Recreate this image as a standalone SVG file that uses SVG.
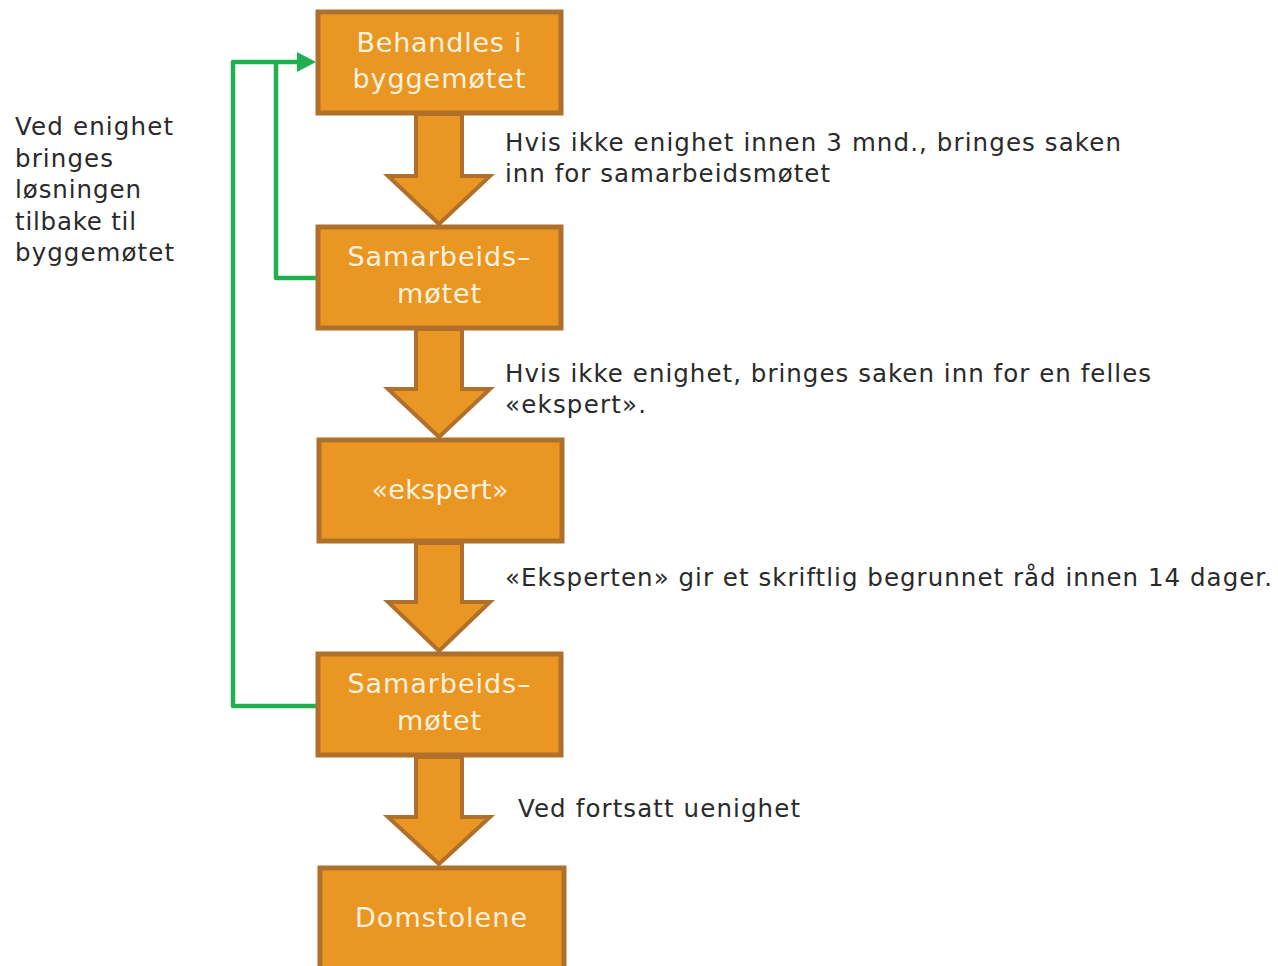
<svg xmlns="http://www.w3.org/2000/svg" width="1278" height="966" viewBox="0 0 1278 966">
<style>
.box{fill:#ea9623;stroke:#b0702c;stroke-width:5}
.arr{fill:#ea9623;stroke:#b0702c;stroke-width:4;stroke-linejoin:miter}
.bt{font-family:"DejaVu Sans",Verdana,sans-serif;font-size:27px;fill:#fdf1df;text-anchor:middle}
.lt{font-family:"DejaVu Sans",Verdana,sans-serif;font-size:24.5px;fill:#2a2a2a}
.g{fill:none;stroke:#22b04e;stroke-width:4.5;stroke-linejoin:round}
.gh{fill:#22b04e}
</style>
<rect width="1278" height="966" fill="#ffffff"/>
<g id="connectors">
<path class="arr" d="M416,114 L462,114 L462,176 L490,176 L439,224 L388,176 L416,176 Z"/>
<path class="arr" d="M416,329 L462,329 L462,389 L490,389 L439,437 L388,389 L416,389 Z"/>
<path class="arr" d="M416,543 L462,543 L462,602 L490,602 L439,651 L388,602 L416,602 Z"/>
<path class="arr" d="M416,757 L462,757 L462,817 L490,817 L439,864 L388,817 L416,817 Z"/>
<path class="g" d="M318,706 L233,706 L233,62 L300,62"/>
<path class="g" d="M318,278 L276,278 L276,62"/>
<path class="gh" d="M297,52 L316,62 L297,72 Z"/>
</g>
<g id="n1"><rect class="box" x="318" y="12" width="243" height="101"/><text class="bt" x="439" y="52" textLength="165">Behandles i</text><text class="bt" x="439" y="88" textLength="173">byggemøtet</text></g>
<g id="n2"><rect class="box" x="318" y="227" width="243" height="101"/><text class="bt" x="439" y="266" textLength="183">Samarbeids–</text><text class="bt" x="439" y="303" textLength="84">møtet</text></g>
<g id="n3"><rect class="box" x="319" y="440" width="243" height="101"/><text class="bt" x="440" y="499" textLength="137">«ekspert»</text></g>
<g id="n4"><rect class="box" x="318" y="654" width="243" height="101"/><text class="bt" x="439" y="693" textLength="183">Samarbeids–</text><text class="bt" x="439" y="730" textLength="84">møtet</text></g>
<g id="n5"><rect class="box" x="320" y="868" width="244" height="104"/><text class="bt" x="441" y="927" textLength="172">Domstolene</text></g>
<g id="labels">
<text class="lt" x="505" y="151" textLength="616">Hvis ikke enighet innen 3 mnd., bringes saken</text>
<text class="lt" x="505" y="182" textLength="325">inn for samarbeidsmøtet</text>
<text class="lt" x="505" y="382" textLength="646">Hvis ikke enighet, bringes saken inn for en felles</text>
<text class="lt" x="505" y="413" textLength="141">«ekspert».</text>
<text class="lt" x="505" y="586" textLength="767">«Eksperten» gir et skriftlig begrunnet råd innen 14 dager.</text>
<text class="lt" x="518" y="817" textLength="282">Ved fortsatt uenighet</text>
<text class="lt" x="15" y="135" textLength="158">Ved enighet</text>
<text class="lt" x="15" y="167" textLength="98">bringes</text>
<text class="lt" x="15" y="198" textLength="126">løsningen</text>
<text class="lt" x="15" y="230" textLength="121">tilbake til</text>
<text class="lt" x="15" y="261" textLength="159">byggemøtet</text>
</g>
</svg>
